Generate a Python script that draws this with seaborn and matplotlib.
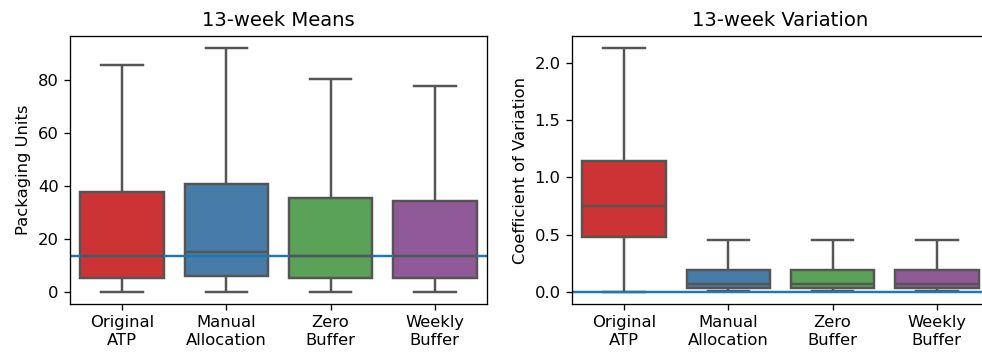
import pandas as pd
import matplotlib
matplotlib.use('Agg')
import matplotlib.pyplot as plt
import seaborn as sns

# scenarios in plotting order
scenarios = ['Original\nATP', 'Manual\nAllocation', 'Zero\nBuffer', 'Weekly\nBuffer']

# five-number summaries: min, q1, median, q3, max
means_orig = [0.0, 5.3, 13.75, 37.6, 86.0]
means_manual = [0.0, 6.0, 15.0, 40.7, 92.2]
means_zero = [0.0, 5.3, 13.75, 35.5, 80.4]
means_weekly = [0.0, 5.3, 13.75, 34.4, 77.9]

cv_orig = [0.0, 0.48, 0.75, 1.14, 2.13]
cv_manual = [0.01, 0.03, 0.065, 0.19, 0.45]
cv_zero = [0.01, 0.03, 0.065, 0.19, 0.45]
cv_weekly = [0.01, 0.03, 0.065, 0.19, 0.45]

# reference lines (median of the original ATP means, zero variation)
means_ref = 13.75
cv_ref = 0.0


def long_form(groups):
    rows = []
    for name, vals in zip(scenarios, groups):
        for v in vals:
            rows.append({'scenario': name, 'value': v})
    return pd.DataFrame(rows)


means_df = long_form([means_orig, means_manual, means_zero, means_weekly])
cv_df = long_form([cv_orig, cv_manual, cv_zero, cv_weekly])

DPI = 118
fig = plt.figure(figsize=(982 / DPI, 354 / DPI), dpi=DPI)
ax1 = fig.add_axes([0.0713, 0.1412, 0.4246, 0.757])
ax2 = fig.add_axes([0.5825, 0.1412, 0.4246, 0.757])

for ax, data, ref, title, ylabel in [
    (ax1, means_df, means_ref, '13-week Means', 'Packaging Units'),
    (ax2, cv_df, cv_ref, '13-week Variation', 'Coefficient of Variation'),
]:
    sns.boxplot(x='scenario', y='value', hue='scenario', data=data, ax=ax,
                palette='Set1', legend=False, whis=[0, 100], showfliers=False,
                linewidth=1.5, linecolor='#555555')
    ax.axhline(ref, color='tab:blue')
    ax.set_title(title)
    ax.set_xlabel('')
    ax.set_ylabel(ylabel)

fig.savefig('out.png', dpi=DPI)
